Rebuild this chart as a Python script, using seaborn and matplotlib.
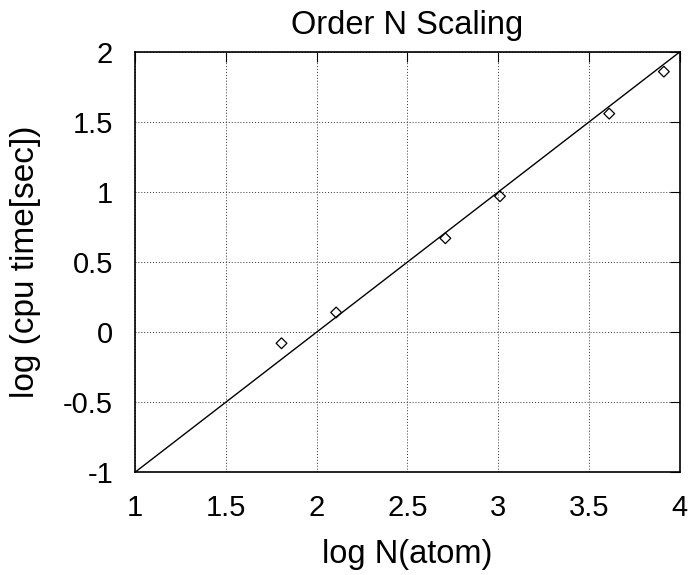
import matplotlib
matplotlib.use("Agg")
import matplotlib.pyplot as plt
import seaborn as sns
import pandas as pd

# measured points (log10 of atom count vs log10 of cpu seconds)
log_atoms = [1.806, 2.107, 2.709, 3.010, 3.612, 3.913]
log_cpu = [-0.08, 0.14, 0.67, 0.97, 1.56, 1.86]

# ideal order-N line, slope 1
fit_x = [1, 4]
fit_y = [-1, 2]

x_ticks = [1, 1.5, 2, 2.5, 3, 3.5, 4]
x_labels = ["1", "1.5", "2", "2.5", "3", "3.5", "4"]
y_ticks = [-1, -0.5, 0, 0.5, 1, 1.5, 2]
y_labels = ["-1", "-0.5", "0", "0.5", "1", "1.5", "2"]


def create_chart():
    sns.set_theme(style="white")
    plt.rcParams['font.family'] = ['Liberation Sans', 'DejaVu Sans']
    plt.rcParams['text.color'] = 'black'
    plt.rcParams['axes.labelcolor'] = 'black'

    fig = plt.figure(figsize=(6.9, 5.75), dpi=100)
    ax = fig.add_axes([0.196, 0.179, 0.789, 0.7305])

    pts = pd.DataFrame({'x': log_atoms, 'y': log_cpu})
    fit = pd.DataFrame({'x': fit_x, 'y': fit_y})

    sns.lineplot(x='x', y='y', data=fit, ax=ax, color='black', linewidth=1.0)
    sns.scatterplot(x='x', y='y', data=pts, ax=ax, marker='D', s=30,
                    facecolor='none', edgecolor='black', linewidth=0.9,
                    zorder=3)

    ax.set_xlim(1, 4)
    ax.set_ylim(-1, 2)
    ax.set_xticks(x_ticks)
    ax.set_xticklabels(x_labels)
    ax.set_yticks(y_ticks)
    ax.set_yticklabels(y_labels)

    ax.grid(True, linestyle=(0, (1, 2)), color='#333333', linewidth=0.7)
    ax.tick_params(direction='in', length=7, width=0.8, top=True, right=True,
                   labelsize=21, pad=16, colors='black')
    for s in ax.spines.values():
        s.set_color('black')
        s.set_linewidth(1.2)

    ax.set_title('Order N Scaling', fontsize=23.5, pad=13, color='black')
    ax.set_xlabel('log N(atom)', fontsize=23.5, labelpad=12)
    ax.set_ylabel('log (cpu time[sec])', fontsize=24, labelpad=16)

    fig.savefig('out.png', dpi=100)


if __name__ == "__main__":
    create_chart()
